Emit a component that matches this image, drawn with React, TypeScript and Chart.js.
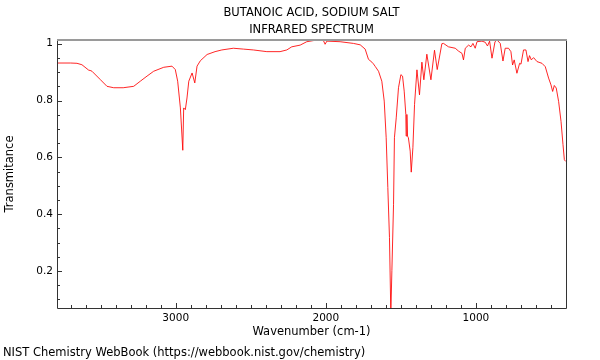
import { useEffect, useRef } from "react";
import { Chart, registerables } from "chart.js";

Chart.register(...registerables);

const titleLines = ["BUTANOIC ACID, SODIUM SALT", "INFRARED SPECTRUM"];
const xAxisTitle = "Wavenumber (cm-1)";
const yAxisTitle = "Transmitance";
const footerText = "NIST Chemistry WebBook (https://webbook.nist.gov/chemistry)";

const wavenumbers = [
  3791, 3700, 3658, 3625, 3580, 3565, 3558, 3503, 3458, 3413, 3350, 3280, 3236, 3191, 3147, 3080,
  3025, 3003, 2987, 2969, 2953, 2947, 2936, 2925, 2913, 2891, 2873, 2858, 2836, 2791, 2738, 2693,
  2616, 2549, 2483, 2393, 2305, 2260, 2227, 2171, 2127, 2060, 2016, 2005, 1993, 1905, 1816, 1771,
  1738, 1716, 1693, 1683, 1671, 1649, 1627, 1611, 1598, 1587, 1576, 1567, 1560, 1549, 1543, 1531,
  1516, 1500, 1489, 1478, 1467, 1465, 1460, 1456, 1450, 1438, 1431, 1420, 1409, 1393, 1376, 1360,
  1347, 1327, 1300, 1276, 1258, 1227, 1216, 1183, 1138, 1116, 1093, 1083, 1071, 1049, 1033, 1020,
  1005, 993, 960, 938, 923, 909, 893, 883, 873, 860, 838, 820, 805, 783, 767, 756,
  745, 727, 709, 700, 683, 667, 653, 643, 631, 616, 593, 560, 538, 516, 500, 489,
  478, 465, 449, 433, 420, 411, 403,
];

const transmittance = [
  0.932, 0.932, 0.931, 0.926, 0.907, 0.905, 0.903, 0.874, 0.85, 0.845, 0.845, 0.85, 0.868, 0.886, 0.903, 0.917,
  0.921, 0.909, 0.868, 0.774, 0.625, 0.774, 0.768, 0.809, 0.868, 0.897, 0.862, 0.921, 0.94, 0.962, 0.972, 0.978,
  0.984, 0.981, 0.978, 0.972, 0.972, 0.978, 0.989, 0.995, 1.007, 1.013, 1.011, 0.998, 1.009, 1.007, 1.001, 0.996,
  0.981, 0.945, 0.935, 0.929, 0.92, 0.903, 0.868, 0.798, 0.669, 0.494, 0.318, 0.05, 0.201, 0.435, 0.669, 0.739,
  0.845, 0.891, 0.886, 0.833, 0.751, 0.675, 0.751, 0.675, 0.669, 0.622, 0.548, 0.634, 0.786, 0.908, 0.82, 0.935,
  0.873, 0.963, 0.873, 0.977, 0.909, 1.0, 1.001, 0.989, 0.984, 0.974, 0.966, 0.943, 0.984, 0.995, 0.989, 1.001,
  0.984, 1.007, 1.009, 1.005, 0.992, 1.009, 0.949, 0.978, 1.007, 1.013, 1.001, 0.939, 0.984, 0.984, 0.972, 0.925,
  0.943, 0.896, 0.931, 0.928, 0.978, 0.978, 0.937, 0.958, 0.943, 0.951, 0.937, 0.931, 0.919, 0.879, 0.855, 0.832,
  0.853, 0.844, 0.796, 0.726, 0.645, 0.592, 0.586,
];

const xMin = 400;
const xMax = 3791;
const yMin = 0.07;
const yMax = 1.013;
const xMajorTicks = [1000, 2000, 3000];
const yMajorTicks = [0.2, 0.4, 0.6, 0.8, 1];
const xMinorStep = 100;
const yMinorStep = 0.05;

const FONT = "'DejaVu Sans', sans-serif";

const decorPlugin = {
  id: "decor",
  afterDraw(chart: any) {
    const { ctx, chartArea: a, scales } = chart;
    const xs = scales.x;
    const ys = scales.y;
    ctx.save();
    // tick marks (inward)
    ctx.strokeStyle = "#333";
    ctx.lineWidth = 1;
    ctx.beginPath();
    for (let v = Math.ceil(xMin / xMinorStep) * xMinorStep; v <= xMax; v += xMinorStep) {
      const px = Math.round(xs.getPixelForValue(v)) + 0.5;
      const len = xMajorTicks.includes(v) ? 5 : 3;
      ctx.moveTo(px, a.bottom);
      ctx.lineTo(px, a.bottom - len);
    }
    for (let i = Math.ceil(yMin / yMinorStep); i * yMinorStep <= yMax + 1e-9; i++) {
      const v = +(i * yMinorStep).toFixed(2);
      const py = Math.round(ys.getPixelForValue(v)) + 0.5;
      const major = yMajorTicks.some((t) => Math.abs(t - v) < 1e-6);
      const len = major ? 5 : 3;
      ctx.moveTo(a.left, py);
      ctx.lineTo(a.left + len, py);
    }
    ctx.stroke();
    // frame
    ctx.strokeStyle = "#333";
    ctx.lineWidth = 1;
    ctx.beginPath();
    ctx.moveTo(Math.round(a.left) + 0.5, a.top);
    ctx.lineTo(Math.round(a.left) + 0.5, Math.round(a.bottom) + 0.5);
    ctx.lineTo(Math.round(a.right) + 0.5, Math.round(a.bottom) + 0.5);
    ctx.lineTo(Math.round(a.right) + 0.5, a.top);
    ctx.stroke();
    ctx.strokeStyle = "#9a9a9a";
    ctx.lineWidth = 2;
    ctx.beginPath();
    ctx.moveTo(a.left, Math.round(a.top));
    ctx.lineTo(a.right + 1, Math.round(a.top));
    ctx.stroke();
    // texts
    ctx.fillStyle = "#000";
    ctx.font = `11.5px ${FONT}`;
    ctx.textAlign = "center";
    ctx.textBaseline = "middle";
    const cx = (a.left + a.right) / 2;
    ctx.fillText(titleLines[0], cx, 13);
    ctx.fillText(titleLines[1], cx, 30);
    ctx.fillText(xAxisTitle, cx, 332);
    ctx.textAlign = "left";
    ctx.fillText(footerText, 3, 353);
    ctx.save();
    ctx.translate(10, (a.top + a.bottom) / 2);
    ctx.rotate(-Math.PI / 2);
    ctx.textAlign = "center";
    ctx.fillText(yAxisTitle, 0, 0);
    ctx.restore();
    ctx.restore();
  },
};

export default function App() {
  const canvasRef = useRef<HTMLCanvasElement | null>(null);

  useEffect(() => {
    const canvas = canvasRef.current;
    if (!canvas) return;
    const points = wavenumbers.map((w, i) => ({ x: w, y: transmittance[i] }));
    const chart = new Chart(canvas, {
      type: "line",
      data: {
        datasets: [
          {
            data: points,
            borderColor: "rgba(255,0,0,0.85)",
            borderWidth: 1,
            pointRadius: 0,
            tension: 0,
            fill: false,
          },
        ],
      },
      options: {
        animation: false,
        responsive: false,
        devicePixelRatio: 1,
        layout: { padding: { left: 0, right: 34, top: 40, bottom: 0 } },
        plugins: { legend: { display: false }, tooltip: { enabled: false }, title: { display: false } },
        scales: {
          x: {
            type: "linear",
            reverse: true,
            min: xMin,
            max: xMax,
            afterBuildTicks: (scale: any) => {
              scale.ticks = xMajorTicks.map((v) => ({ value: v }));
            },
            afterFit: (scale: any) => {
              scale.height = 52;
            },
            ticks: {
              color: "#000",
              font: { family: FONT, size: 10.5 },
              padding: 4,
              maxRotation: 0,
              autoSkip: false,
              callback: (v: any) => String(v),
            },
            grid: { display: false, drawTicks: false },
            border: { display: false },
          },
          y: {
            type: "linear",
            min: yMin,
            max: yMax,
            afterBuildTicks: (scale: any) => {
              scale.ticks = yMajorTicks.map((v) => ({ value: v }));
            },
            afterFit: (scale: any) => {
              scale.width = 57;
            },
            ticks: {
              color: "#000",
              font: { family: FONT, size: 10.5 },
              padding: 4,
              autoSkip: false,
              callback: (v: any) => String(+Number(v).toFixed(2)),
            },
            grid: { display: false, drawTicks: false },
            border: { display: false },
          },
        },
      },
      plugins: [decorPlugin],
    });
    return () => chart.destroy();
  }, []);

  return (
    <div style={{ position: "absolute", left: 0, top: 0, width: 600, height: 360, background: "#fff" }}>
      <canvas ref={canvasRef} width={600} height={360} style={{ display: "block" }} />
    </div>
  );
}
